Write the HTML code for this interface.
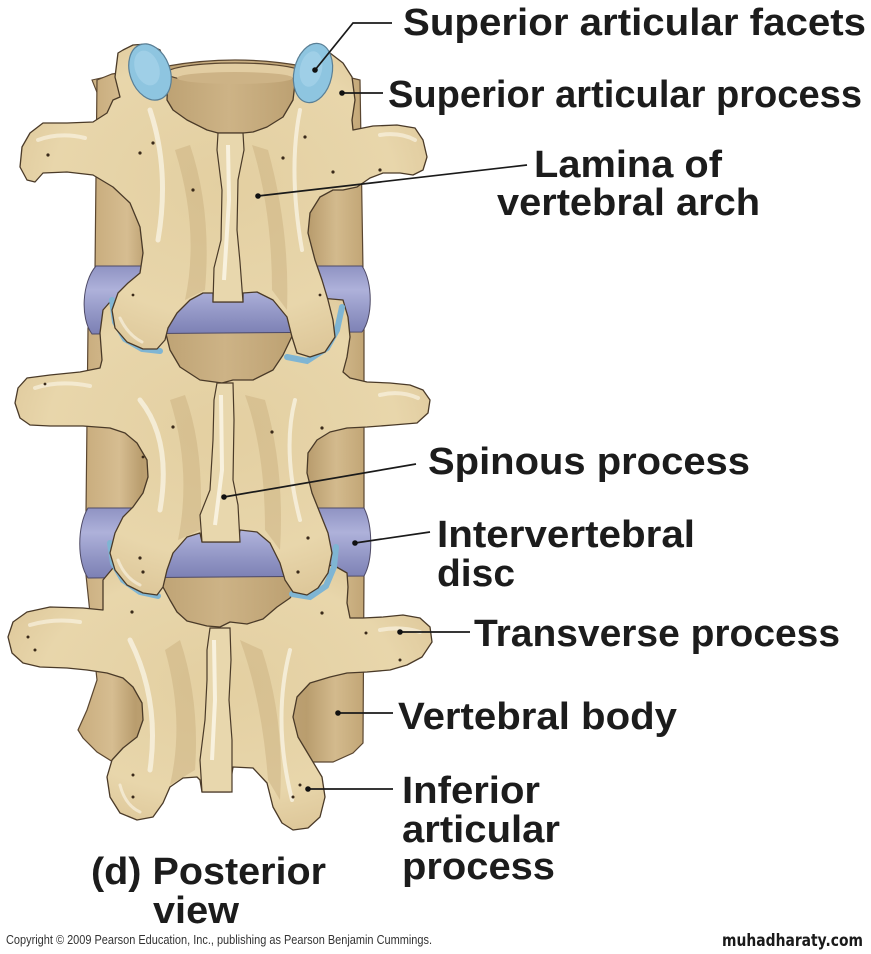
<!DOCTYPE html>
<html>
<head>
<meta charset="utf-8">
<style>
  html, body { margin: 0; padding: 0; background: #ffffff; }
  svg { display: block; }
  .lbl { font-family: "Liberation Sans", Arial, sans-serif; font-weight: bold; font-size: 38px; fill: #1c1c1c; }
</style>
</head>
<body>
<svg width="871" height="954" viewBox="0 0 871 954" xmlns="http://www.w3.org/2000/svg">
  <defs>
    <linearGradient id="disc" x1="0" y1="0" x2="0" y2="1">
      <stop offset="0" stop-color="#8f93c3"/>
      <stop offset="0.35" stop-color="#aeb1da"/>
      <stop offset="0.7" stop-color="#9296c5"/>
      <stop offset="1" stop-color="#7c80b4"/>
    </linearGradient>
    <linearGradient id="body" x1="0" y1="0" x2="1" y2="0">
      <stop offset="0" stop-color="#c9ad7e"/>
      <stop offset="0.12" stop-color="#d6bd91"/>
      <stop offset="0.2" stop-color="#b99d6e"/>
      <stop offset="0.5" stop-color="#cdb386"/>
      <stop offset="0.8" stop-color="#b99d6e"/>
      <stop offset="0.9" stop-color="#d3ba8d"/>
      <stop offset="1" stop-color="#c2a676"/>
    </linearGradient>
    <radialGradient id="bone" cx="0.5" cy="0.45" r="0.6">
      <stop offset="0" stop-color="#e3cfa1"/>
      <stop offset="0.7" stop-color="#e8d6ab"/>
      <stop offset="1" stop-color="#dcc597"/>
    </radialGradient>
  </defs>

  <!-- ===== Vertebral bodies (behind) ===== -->
  <path d="M92 80 L110 76 L112 100 L100 100 Z" fill="#cdb386" stroke="#5a4630" stroke-width="1.1"/>
  <path d="M97 80 L112 74 L168 66 Q235 54 302 66 L360 80 L363 270 L95 270 Z" fill="url(#body)" stroke="#5a4630" stroke-width="1.2"/>
  <ellipse cx="235" cy="73" rx="68" ry="10" fill="#e2cda2" stroke="#5a4630" stroke-width="1.2"/>
  <ellipse cx="235" cy="78" rx="58" ry="6" fill="#cdb386"/>
  <path d="M88 328 L364 328 L364 512 L86 512 Z" fill="url(#body)" stroke="#5a4630" stroke-width="1.2"/>
  <path d="M86 575 L364 575 L363 743 L353 753 L333 762 L113 762 L97 752 L83 738 L78 730 L87 710 L97 680 Z" fill="url(#body)" stroke="#5a4630" stroke-width="1.2"/>

  <!-- ===== Discs ===== -->
  <path d="M96 266 C82 282 80 318 92 334 L362 332 C373 318 373 282 362 266 Z" fill="url(#disc)" stroke="#4e4a66" stroke-width="1"/>
  <path d="M88 508 C77 526 77 562 88 578 L364 576 C373 560 373 526 364 508 Z" fill="url(#disc)" stroke="#4e4a66" stroke-width="1"/>

  <!-- ===== V3 arch ===== -->
  <path d="M103 610 L83 608 L50 607 L27 612 L13 622 L8 637 L12 653 L23 663 L40 667 L67 668 L87 670 L107 673 L123 678 L133 687 L142 703 L143 720 L137 737 L123 748 L112 760 L107 777 L110 797 L120 813 L137 820 L153 817 L163 803 L170 787 L183 778 L197 777 L200 780 L202 792 L230 792 L232 773 L233 767 L253 768 L267 783 L273 807 L282 823 L293 830 L308 828 L320 817 L325 797 L322 777 L310 757 L298 737 L293 717 L297 697 L310 683 L330 677 L347 673 L367 672 L390 670 L407 665 L422 657 L432 642 L430 627 L420 618 L403 615 L383 617 L363 618 L350 618 L347 603 L348 587 L347 573 L333 565 L310 570 L290 598 L277 607 L263 619 L247 624 L230 622 L220 627 L207 626 L187 621 L177 612 L170 600 L163 587 L157 573 L130 565 L113 568 L103 580 Z"
        fill="url(#bone)" stroke="#4a3a28" stroke-width="1.3" stroke-linejoin="round"/>
  <path d="M180 640 Q200 700 195 770 L170 785 Q185 720 165 650 Z" fill="#c8ad7c" opacity="0.45"/>
  <path d="M240 640 Q262 700 268 780 L280 800 Q285 720 262 650 Z" fill="#c8ad7c" opacity="0.45"/>
  <path d="M130 640 Q160 700 150 770" fill="none" stroke="#fbf7ea" stroke-width="5" opacity="0.7" stroke-linecap="round"/>
  <path d="M290 650 Q272 720 292 800" fill="none" stroke="#fbf7ea" stroke-width="4" opacity="0.7" stroke-linecap="round"/>
  <path d="M30 625 Q55 618 80 622" fill="none" stroke="#fbf7ea" stroke-width="4" opacity="0.6" stroke-linecap="round"/>
  <path d="M380 630 Q400 626 420 632" fill="none" stroke="#fbf7ea" stroke-width="4" opacity="0.6" stroke-linecap="round"/>
  <path d="M120 785 Q125 805 140 812" fill="none" stroke="#fbf7ea" stroke-width="3" opacity="0.6" stroke-linecap="round"/>
  <!-- V3 spinous -->
  <path d="M210 628 L230 628 L231 660 L229 700 L232 740 L232 792 L202 792 L200 760 L205 720 L207 680 L207 650 Z" fill="#e8d7ad" stroke="#4a3a28" stroke-width="1.2"/>
  <path d="M214 640 L215 700 L212 760" fill="none" stroke="#fbf7ea" stroke-width="4" opacity="0.8"/>

  <!-- V2/V3 facet cartilage crescents -->
  <path d="M110 543 L113 563 L123 580 L140 592 L158 596" fill="none" stroke="#7fb5d3" stroke-width="6" stroke-linecap="round"/>
  <path d="M292 594 L310 597 L326 586 L334 567 L336 547" fill="none" stroke="#7fb5d3" stroke-width="6" stroke-linecap="round"/>

  <!-- ===== V2 arch ===== -->
  <path d="M103 310 L100 333 L102 360 L100 368 L80 372 L50 375 L27 378 L18 388 L15 403 L20 418 L30 425 L50 426 L83 426 L110 428 L125 433 L137 443 L147 460 L148 477 L143 493 L133 507 L123 517 L115 533 L110 553 L115 570 L127 585 L143 593 L157 595 L163 587 L167 570 L173 553 L187 537 L200 533 L202 542 L238 542 L240 530 L257 532 L270 543 L280 563 L285 580 L293 592 L307 595 L318 588 L328 573 L332 553 L328 533 L320 513 L312 493 L307 473 L308 453 L317 440 L330 432 L347 428 L367 427 L393 425 L417 423 L428 413 L430 400 L423 390 L410 385 L390 383 L367 382 L350 378 L343 372 L347 357 L350 337 L348 317 L343 300 L320 298 L295 330 L283 355 L273 370 L253 380 L233 380 L222 383 L200 380 L180 367 L170 350 L165 330 L150 305 L125 298 L110 302 Z"
        fill="url(#bone)" stroke="#4a3a28" stroke-width="1.3" stroke-linejoin="round"/>
  <path d="M185 395 Q205 450 200 530 L178 540 Q192 470 170 400 Z" fill="#c8ad7c" opacity="0.45"/>
  <path d="M245 395 Q265 450 265 530 L280 550 Q285 470 265 400 Z" fill="#c8ad7c" opacity="0.45"/>
  <path d="M140 400 Q172 440 160 510" fill="none" stroke="#fbf7ea" stroke-width="5" opacity="0.7" stroke-linecap="round"/>
  <path d="M295 400 Q282 450 300 520" fill="none" stroke="#fbf7ea" stroke-width="4" opacity="0.7" stroke-linecap="round"/>
  <path d="M35 388 Q60 380 90 386" fill="none" stroke="#fbf7ea" stroke-width="4" opacity="0.6" stroke-linecap="round"/>
  <path d="M380 395 Q400 390 418 398" fill="none" stroke="#fbf7ea" stroke-width="4" opacity="0.6" stroke-linecap="round"/>
  <path d="M118 560 Q125 578 140 585" fill="none" stroke="#fbf7ea" stroke-width="3" opacity="0.6" stroke-linecap="round"/>
  <!-- V2 spinous -->
  <path d="M217 383 L233 383 L234 420 L233 480 L238 505 L240 542 L202 542 L200 515 L210 490 L213 440 L214 400 Z" fill="#e8d7ad" stroke="#4a3a28" stroke-width="1.2"/>
  <path d="M221 395 L222 470 L215 525" fill="none" stroke="#fbf7ea" stroke-width="4" opacity="0.8"/>

  <!-- V1/V2 facet cartilage crescents -->
  <path d="M112 300 L115 322 L125 339 L142 349 L160 351" fill="none" stroke="#7fb5d3" stroke-width="6" stroke-linecap="round"/>
  <path d="M287 357 L307 361 L327 348 L337 330 L342 307" fill="none" stroke="#7fb5d3" stroke-width="6" stroke-linecap="round"/>

  <!-- ===== V1 arch ===== -->
  <path d="M123 50 L133 45 L147 44 L160 50 L168 73 L167 100 L173 110 L187 120 L207 130 L218 133 L243 133 L253 132 L267 127 L283 117 L293 100 L296 75 L300 55 L310 45 L330 53 L343 63 L352 77 L355 100 L352 120 L353 130 L373 126 L397 125 L415 128 L423 140 L427 157 L423 170 L413 175 L400 173 L383 173 L370 178 L357 187 L343 190 L333 190 L320 197 L310 213 L308 233 L315 260 L322 280 L328 300 L333 320 L335 337 L325 352 L310 357 L297 353 L292 337 L287 317 L273 300 L257 292 L243 293 L243 302 L213 302 L213 293 L203 293 L190 300 L177 313 L168 328 L165 340 L157 349 L143 349 L127 342 L115 328 L112 310 L118 293 L128 283 L140 273 L143 253 L140 227 L130 203 L113 187 L93 175 L67 172 L43 173 L35 182 L27 180 L20 167 L22 147 L30 133 L43 123 L67 123 L93 122 L107 113 L113 100 L120 97 L115 77 L118 53 Z"
        fill="url(#bone)" stroke="#4a3a28" stroke-width="1.3" stroke-linejoin="round"/>
  <path d="M190 145 Q212 210 205 290 L185 300 Q200 230 175 150 Z" fill="#c8ad7c" opacity="0.45"/>
  <path d="M252 145 Q272 210 272 290 L287 310 Q290 230 268 150 Z" fill="#c8ad7c" opacity="0.45"/>
  <path d="M150 110 Q170 170 158 240" fill="none" stroke="#fbf7ea" stroke-width="5" opacity="0.7" stroke-linecap="round"/>
  <path d="M300 110 Q288 170 302 250" fill="none" stroke="#fbf7ea" stroke-width="4" opacity="0.7" stroke-linecap="round"/>
  <path d="M38 140 Q60 132 85 138" fill="none" stroke="#fbf7ea" stroke-width="4" opacity="0.6" stroke-linecap="round"/>
  <path d="M380 135 Q400 132 415 140" fill="none" stroke="#fbf7ea" stroke-width="4" opacity="0.6" stroke-linecap="round"/>
  <path d="M120 318 Q128 335 142 342" fill="none" stroke="#fbf7ea" stroke-width="3" opacity="0.6" stroke-linecap="round"/>
  <!-- V1 spinous -->
  <path d="M218 133 L243 133 L244 150 L238 180 L237 230 L240 262 L243 302 L213 302 L214 268 L221 240 L222 190 L217 150 Z" fill="#e8d7ad" stroke="#4a3a28" stroke-width="1.2"/>
  <path d="M228 145 L229 200 L224 280" fill="none" stroke="#fbf7ea" stroke-width="4" opacity="0.8"/>

  <!-- Superior articular facets -->
  <ellipse cx="150" cy="72" rx="20" ry="29" transform="rotate(-20 150 72)" fill="#8ec5e0" stroke="#5a7f95" stroke-width="1.2"/>
  <ellipse cx="147" cy="68" rx="12" ry="18" transform="rotate(-20 147 68)" fill="#a6d3ea" opacity="0.7"/>
  <ellipse cx="313" cy="73" rx="19" ry="30" transform="rotate(12 313 73)" fill="#8ec5e0" stroke="#5a7f95" stroke-width="1.2"/>
  <ellipse cx="311" cy="69" rx="11" ry="18" transform="rotate(12 311 69)" fill="#a6d3ea" opacity="0.7"/>

  <!-- foramina dots -->
  <g fill="#3a2a1a">
    <circle cx="140" cy="153" r="1.6"/><circle cx="153" cy="143" r="1.6"/><circle cx="48" cy="155" r="1.6"/>
    <circle cx="193" cy="190" r="1.6"/><circle cx="305" cy="137" r="1.6"/><circle cx="283" cy="158" r="1.6"/>
    <circle cx="380" cy="170" r="1.6"/><circle cx="333" cy="172" r="1.6"/><circle cx="133" cy="295" r="1.4"/>
    <circle cx="320" cy="295" r="1.4"/><circle cx="173" cy="427" r="1.6"/><circle cx="272" cy="432" r="1.6"/>
    <circle cx="322" cy="428" r="1.6"/><circle cx="45" cy="384" r="1.4"/><circle cx="143" cy="457" r="1.4"/>
    <circle cx="140" cy="558" r="1.6"/><circle cx="143" cy="572" r="1.6"/><circle cx="308" cy="538" r="1.6"/>
    <circle cx="298" cy="572" r="1.6"/><circle cx="28" cy="637" r="1.5"/><circle cx="35" cy="650" r="1.5"/>
    <circle cx="132" cy="612" r="1.6"/><circle cx="322" cy="613" r="1.6"/><circle cx="366" cy="633" r="1.5"/>
    <circle cx="400" cy="660" r="1.5"/><circle cx="133" cy="775" r="1.5"/><circle cx="133" cy="797" r="1.5"/>
    <circle cx="293" cy="797" r="1.5"/><circle cx="300" cy="785" r="1.5"/>
  </g>

  <!-- ===== Leader lines ===== -->
  <g stroke="#1a1a1a" stroke-width="1.7" fill="none">
    <polyline points="392,23 353,23 315,70"/>
    <line x1="342" y1="93" x2="383" y2="93"/>
    <line x1="258" y1="196" x2="527" y2="165"/>
    <line x1="224" y1="497" x2="416" y2="464"/>
    <line x1="355" y1="543" x2="430" y2="532"/>
    <line x1="400" y1="632" x2="470" y2="632"/>
    <line x1="338" y1="713" x2="393" y2="713"/>
    <line x1="308" y1="789" x2="393" y2="789"/>
  </g>
  <g fill="#111">
    <circle cx="315" cy="70" r="2.8"/>
    <circle cx="342" cy="93" r="2.8"/>
    <circle cx="258" cy="196" r="2.8"/>
    <circle cx="224" cy="497" r="2.8"/>
    <circle cx="355" cy="543" r="2.8"/>
    <circle cx="400" cy="632" r="2.8"/>
    <circle cx="338" cy="713" r="2.8"/>
    <circle cx="308" cy="789" r="2.8"/>
  </g>

  <!-- ===== Labels ===== -->
  <text class="lbl" x="403" y="35" textLength="463" lengthAdjust="spacingAndGlyphs">Superior articular facets</text>
  <text class="lbl" x="388" y="107" textLength="474" lengthAdjust="spacingAndGlyphs">Superior articular process</text>
  <text class="lbl" x="534" y="177" textLength="188" lengthAdjust="spacingAndGlyphs">Lamina of</text>
  <text class="lbl" x="497" y="215" textLength="263" lengthAdjust="spacingAndGlyphs">vertebral arch</text>
  <text class="lbl" x="428" y="474" textLength="322" lengthAdjust="spacingAndGlyphs">Spinous process</text>
  <text class="lbl" x="437" y="547" textLength="258" lengthAdjust="spacingAndGlyphs">Intervertebral</text>
  <text class="lbl" x="437" y="586" textLength="78" lengthAdjust="spacingAndGlyphs">disc</text>
  <text class="lbl" x="474" y="646" textLength="366" lengthAdjust="spacingAndGlyphs">Transverse process</text>
  <text class="lbl" x="398" y="729" textLength="279" lengthAdjust="spacingAndGlyphs">Vertebral body</text>
  <text class="lbl" x="402" y="803" textLength="138" lengthAdjust="spacingAndGlyphs">Inferior</text>
  <text class="lbl" x="402" y="842" textLength="158" lengthAdjust="spacingAndGlyphs">articular</text>
  <text class="lbl" x="402" y="879" textLength="153" lengthAdjust="spacingAndGlyphs">process</text>
  <text class="lbl" x="91" y="884" textLength="235" lengthAdjust="spacingAndGlyphs">(d) Posterior</text>
  <text class="lbl" x="153" y="923" textLength="86" lengthAdjust="spacingAndGlyphs">view</text>

  <text x="6" y="944" font-family="Liberation Sans, Arial, sans-serif" font-size="12.5" fill="#333" textLength="426" lengthAdjust="spacingAndGlyphs">Copyright © 2009 Pearson Education, Inc., publishing as Pearson Benjamin Cummings.</text>
  <text x="722" y="946" font-family="DejaVu Sans, Liberation Sans, sans-serif" font-weight="bold" font-size="17" fill="#1a1a1a" textLength="141" lengthAdjust="spacingAndGlyphs">muhadharaty.com</text>
</svg>
</body>
</html>
